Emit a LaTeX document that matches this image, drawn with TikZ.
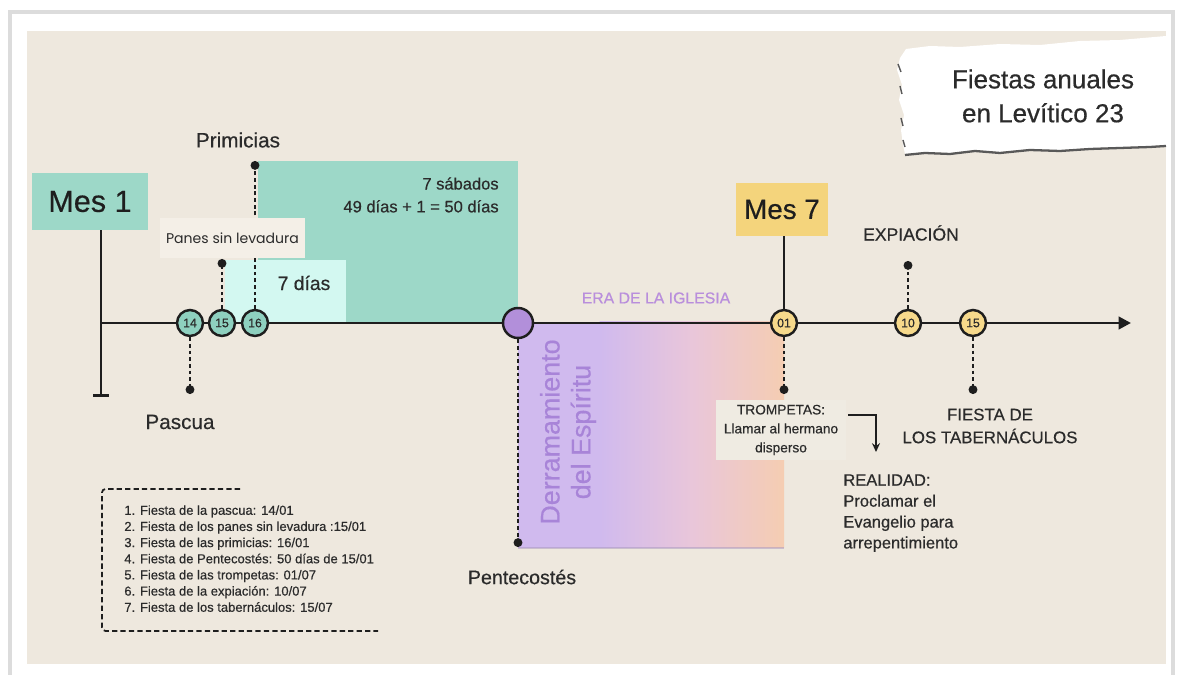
\documentclass[tikz,border=0pt]{standalone}
\usepackage{fontspec}
\setmainfont{Liberation Sans}[FakeBold=0.5]
\newfontfamily\popfont{Poppins}
\usetikzlibrary{arrows.meta}
\definecolor{parch}{HTML}{EEE8DE}
\definecolor{tealbox}{HTML}{9DD8C8}
\definecolor{tealcirc}{HTML}{8ED0BF}
\definecolor{cyanbox}{HTML}{D3F8F1}
\definecolor{panesbg}{HTML}{F4EFE7}
\definecolor{purcirc}{HTML}{B28FDA}
\definecolor{yelbox}{HTML}{F4D47C}
\definecolor{yelcirc}{HTML}{F6D98B}
\definecolor{gradL}{HTML}{D0BAEE}
\definecolor{gradM}{HTML}{E9C6DA}
\definecolor{gradR}{HTML}{F5CDB2}
\definecolor{purtext}{HTML}{A884D8}
\definecolor{eratext}{HTML}{B98EDC}
\definecolor{trombg}{HTML}{EFEBE2}
\definecolor{linec}{HTML}{1E1E1E}
\definecolor{textc}{HTML}{2B2B2B}
\definecolor{framec}{HTML}{DCDCDC}
\newcommand\setfs[2]{\fontsize{#1pt}{#2pt}\selectfont}
\tikzset{
  mainline/.style={draw=linec, line width=1.7pt},
  dashconn/.style={draw=linec, line width=1.1pt, dash pattern=on 2.2pt off 1.6pt, -{Circle[length=5pt]}},
  tday/.style={circle, draw=linec, line width=1.4pt, minimum size=0.52cm, inner sep=0pt, text=textc, font=\setfs{7}{8}},
  lbl/.style={text=textc, inner sep=0pt},
}
\begin{document}
\begin{tikzpicture}[x=0.02cm,y=-0.02cm]
\useasboundingbox (0,0) rectangle (1181,675);
\clip (0,0) rectangle (1181,675);
% frame and parchment
\fill[white] (0,0) rectangle (1181,675);
\draw[framec, line width=2pt, fill=white] (10,12) rectangle (1173,700);
\fill[parch] (27,31) rectangle (1166,664);

% torn title paper
\fill[white] (900,58) -- (906,49) -- (930,46) -- (960,47) -- (1000,44) -- (1040,45) -- (1080,41) -- (1120,40) -- (1166,36)
  -- (1166,145) -- (1150,146) -- (1120,147) -- (1090,148) -- (1060,150) -- (1030,149) -- (1000,152) -- (975,150)
  -- (950,153) -- (925,152) -- (905,154) -- (903,145) -- (901,130) -- (904,115) -- (899,100) -- (902,85) -- (897,70) -- cycle;
\draw[gray!70!black, line width=1.3pt] (905,155) -- (925,153) -- (950,154) -- (975,151) -- (1000,153) -- (1030,150)
  -- (1060,151) -- (1090,149) -- (1120,148) -- (1150,147) -- (1166,146);
\draw[gray!70!black, line width=0.8pt] (898,64) -- (901,72) (900,86) -- (902,94) (901,118) -- (903,126) (903,140) -- (905,147);
\node[lbl, align=center, font=\setfs{14.8}{19.3}] (title) at (1043,96) {Fiestas anuales\\en Levítico 23};

% coloured areas
\fill[tealbox] (258,161) rectangle (518,322);
\fill[cyanbox] (225,260) rectangle (346,322);
\fill[gradL] (518,322) rectangle (600,548);
\shade[left color=gradL, right color=gradR, middle color=gradM] (599.5,322) rectangle (784,548);
\draw[gradL!80!black, line width=0.6pt, opacity=0.5] (518,548) -- (784,548);

% boxes
\node[fill=tealbox, minimum width=2.32cm, minimum height=1.14cm, inner sep=0pt, text=linec, font=\setfs{17.4}{20}] (mes1) at (90,201.5) {Mes 1};
\node[fill=yelbox, minimum width=1.84cm, minimum height=1.06cm, inner sep=0pt, text=linec, font=\setfs{15.8}{18}] (mes7) at (782,209.5) {Mes 7};

% timeline
\coordinate (tl0) at (101,323);
\coordinate (tlend) at (1131,323);
\coordinate (m1bot) at (101,397);
\draw[mainline, -{Bar[width=9pt]}] (mes1.south -| m1bot) -- (m1bot);
\draw[mainline, -{Triangle[length=7pt,width=7pt]}] (tl0) -- (tlend);

% day circles
\node[tday, fill=tealcirc] (c14) at (190,323) {14};
\node[tday, fill=tealcirc] (c15) at (222,323) {15};
\node[tday, fill=tealcirc] (c16) at (255,323) {16};
\node[circle, draw=linec, line width=1.4pt, fill=purcirc, minimum size=0.6cm, inner sep=0pt] (pent) at (518,323) {};
\node[tday, fill=yelcirc] (c01) at (784,323) {01};
\node[tday, fill=yelcirc] (c10) at (908,323) {10};
\node[tday, fill=yelcirc] (c15b) at (973,323) {15};
\draw[mainline] (mes7.south -| c01) -- (c01);

% dashed markers
\coordinate (p14) at (190,394);
\coordinate (p15) at (222,259);
\coordinate (p16) at (255,161);
\coordinate (ppent) at (518,547);
\coordinate (p01) at (784,394);
\coordinate (p10) at (908,261);
\coordinate (p15b) at (973,394);
\draw[dashconn] (c14) -- (p14);
\draw[dashconn] (c15) -- (p15);
\draw[dashconn] (c16) -- (p16);
\draw[dashconn] (pent) -- (ppent);
\draw[dashconn] (c01) -- (p01);
\draw[dashconn] (c10) -- (p10);
\draw[dashconn] (c15b) -- (p15b);

% panes label
\node[fill=panesbg, minimum width=2.9cm, minimum height=0.8cm, inner sep=0pt, text=textc, font=\popfont\setfs{8}{9}] (panes) at (232.5,238) {Panes sin levadura};

% labels
\node[lbl, font=\setfs{11.8}{13}] (primicias) at (238,140) {Primicias};
\node[lbl, font=\setfs{11.8}{13}] (pascua) at (180,422) {Pascua};
\node[lbl, font=\setfs{11}{13}] (sietedias) at (304,283) {7 días};
\node[lbl, align=right, anchor=north east, font=\setfs{9.4}{13}] (sabados) at (499,177) {7 sábados\\49 días + 1 = 50 días};
\node[lbl, text=eratext, font=\setfs{9}{11}] (era) at (656,298) {ERA DE LA IGLESIA};
\node[lbl, text=purtext, rotate=90, align=center, font=\setfs{15.3}{17.6}] (derr) at (568,432) {Derramamiento\\del Espíritu};
\node[lbl, font=\setfs{11.2}{13}] (pentlbl) at (522,577) {Pentecostés};
\node[lbl, font=\setfs{10}{12}] (expi) at (911,233) {EXPIACIÓN};
\node[lbl, align=center, font=\setfs{9.6}{13}] (taber) at (990,426) {FIESTA DE\\LOS TABERNÁCULOS};

% trompetas
\node[fill=trombg, minimum width=2.6cm, minimum height=1.2cm, inner sep=0pt, align=center, text=textc, font=\setfs{7.8}{10.8}] (tromp) at (781,430) {TROMPETAS:\\Llamar al hermano\\disperso};
\coordinate (realarrow) at (876,452);
\draw[linec, line width=1pt, -{Stealth[length=5pt,width=4.5pt]}] ([shift={(2,-15)}]tromp.east) -| (realarrow);
\node[lbl, align=left, anchor=north west, font=\setfs{9.4}{11.9}] (real) at (843,474) {REALIDAD:\\Proclamar el\\Evangelio para\\arrepentimiento};

% legend
\draw[linec, line width=1pt, dash pattern=on 3pt off 1.8pt, rounded corners=2pt] (240,489) -- (102,489) -- (102,631) -- (378,631);
\node[lbl, align=left, anchor=north west, font=\setfs{7.4}{9.2}] (legend) at (124,505) {1. Fiesta de la pascua: 14/01\\2. Fiesta de los panes sin levadura :15/01\\3. Fiesta de las primicias: 16/01\\4. Fiesta de Pentecostés: 50 días de 15/01\\5. Fiesta de las trompetas: 01/07\\6. Fiesta de la expiación: 10/07\\7. Fiesta de los tabernáculos: 15/07};
\end{tikzpicture}
\end{document}
